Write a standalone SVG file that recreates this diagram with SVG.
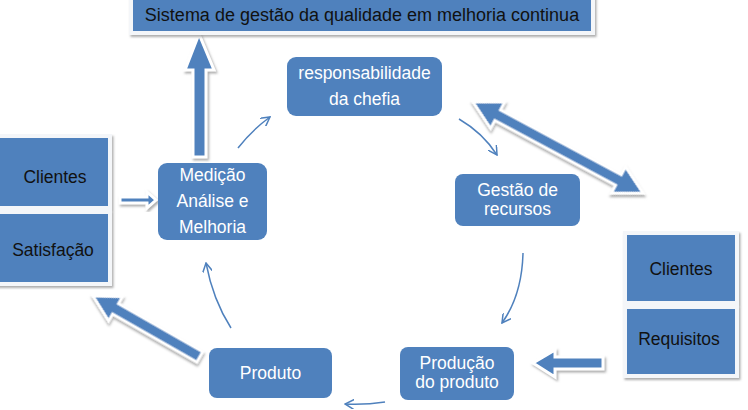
<svg xmlns="http://www.w3.org/2000/svg" width="748" height="410" viewBox="0 0 748 410">
<style>
.node{fill:#4f81bd}
.sq{fill:#4f81bd;stroke:#f4f6f9;stroke-width:4}
.t{font-family:"Liberation Sans",Arial,sans-serif;font-size:17.5px;text-anchor:middle;dominant-baseline:central}
.w{fill:#ffffff}
.k{fill:#111111}
.blk{fill:#4f81bd;stroke:#ffffff;stroke-width:3;stroke-linejoin:miter}
.thin{fill:none;stroke:#4f81bd;stroke-width:1.5;marker-end:url(#open)}
</style>
<defs>
<filter id="sh" x="-20%" y="-20%" width="140%" height="140%">
<feDropShadow dx="1.5" dy="2" stdDeviation="1" flood-color="#8a8a8a" flood-opacity="0.7"/>
</filter>
<marker id="open" viewBox="0 0 10 10" refX="9" refY="5" markerWidth="10" markerHeight="10" markerUnits="userSpaceOnUse" orient="auto">
<path d="M0,0 L9,5 L0,10" fill="none" stroke="#4f81bd" stroke-width="1.5"/>
</marker>
</defs>
<rect width="748" height="410" fill="#ffffff"/>

<g id="connectors">
<path class="thin" d="M238,148 Q252,130 270,117"/>
<path class="thin" d="M459,119 Q483,133 497,155"/>
<path class="thin" d="M523,253 Q522,295 502,323"/>
<path class="thin" d="M385,402 Q365,405 345,404"/>
<path class="thin" d="M231,328 Q213,300 206,263"/>
<polygon class="blk" filter="url(#sh)" points="199,34 214,70 206,70 206,157 193,157 193,70 185,70"/>
<polygon class="blk" filter="url(#sh)" points="120,197 147,197 147,192 156,200 147,208 147,203 120,203"/>
<polygon class="blk" filter="url(#sh)" points="533,363 555,350 555,357 603,357 603,369 555,369 555,377"/>
<polygon class="blk" filter="url(#sh)" transform="translate(93,296) rotate(29.7)" points="0,0 26,-14 26,-6 123,-6 123,6 26,6 26,14"/>
<polygon class="blk" filter="url(#sh)" transform="translate(473,102) rotate(28.2)" points="0,0 28,-15 28,-6 165,-6 165,-15 193,0 165,15 165,6 28,6 28,15"/>
</g>

<g id="top">
<rect class="sq" filter="url(#sh)" x="131" y="-4" width="462" height="37"/>
<text class="t k" x="362" y="15" style="font-size:18px">Sistema de gestão da qualidade em melhoria continua</text>
</g>

<g id="resp">
<rect class="node" x="287" y="57" width="155" height="59" rx="9"/>
<text class="t w" x="364.5" y="73">responsabilidade</text>
<text class="t w" x="364.5" y="99">da chefia</text>
</g>

<g id="gestao">
<rect class="node" x="455" y="174" width="125" height="52" rx="8"/>
<text class="t w" x="517.5" y="190">Gestão de</text>
<text class="t w" x="517.5" y="209">recursos</text>
</g>

<g id="producao">
<rect class="node" x="400" y="347" width="114" height="53" rx="8"/>
<text class="t w" x="457" y="363">Produção</text>
<text class="t w" x="457" y="382">do produto</text>
</g>

<g id="produto">
<rect class="node" x="209" y="348" width="123" height="50" rx="8"/>
<text class="t w" x="270.5" y="373">Produto</text>
</g>

<g id="medicao">
<rect class="node" x="158" y="163" width="109" height="77" rx="9"/>
<text class="t w" x="212.5" y="175">Medição</text>
<text class="t w" x="212.5" y="201">Análise e</text>
<text class="t w" x="212.5" y="227">Melhoria</text>
</g>

<g id="clientes-left">
<rect class="sq" filter="url(#sh)" x="-4" y="136" width="114" height="72"/>
<text class="t k" x="55" y="177">Clientes</text>
</g>

<g id="satisfacao">
<rect class="sq" filter="url(#sh)" x="-4" y="212" width="114" height="72"/>
<text class="t k" x="53" y="250">Satisfação</text>
</g>

<g id="clientes-right">
<rect class="sq" filter="url(#sh)" x="625" y="233" width="112" height="70"/>
<text class="t k" x="681" y="269">Clientes</text>
</g>

<g id="requisitos">
<rect class="sq" filter="url(#sh)" x="625" y="307" width="112" height="69"/>
<text class="t k" x="679" y="339">Requisitos</text>
</g>
</svg>
